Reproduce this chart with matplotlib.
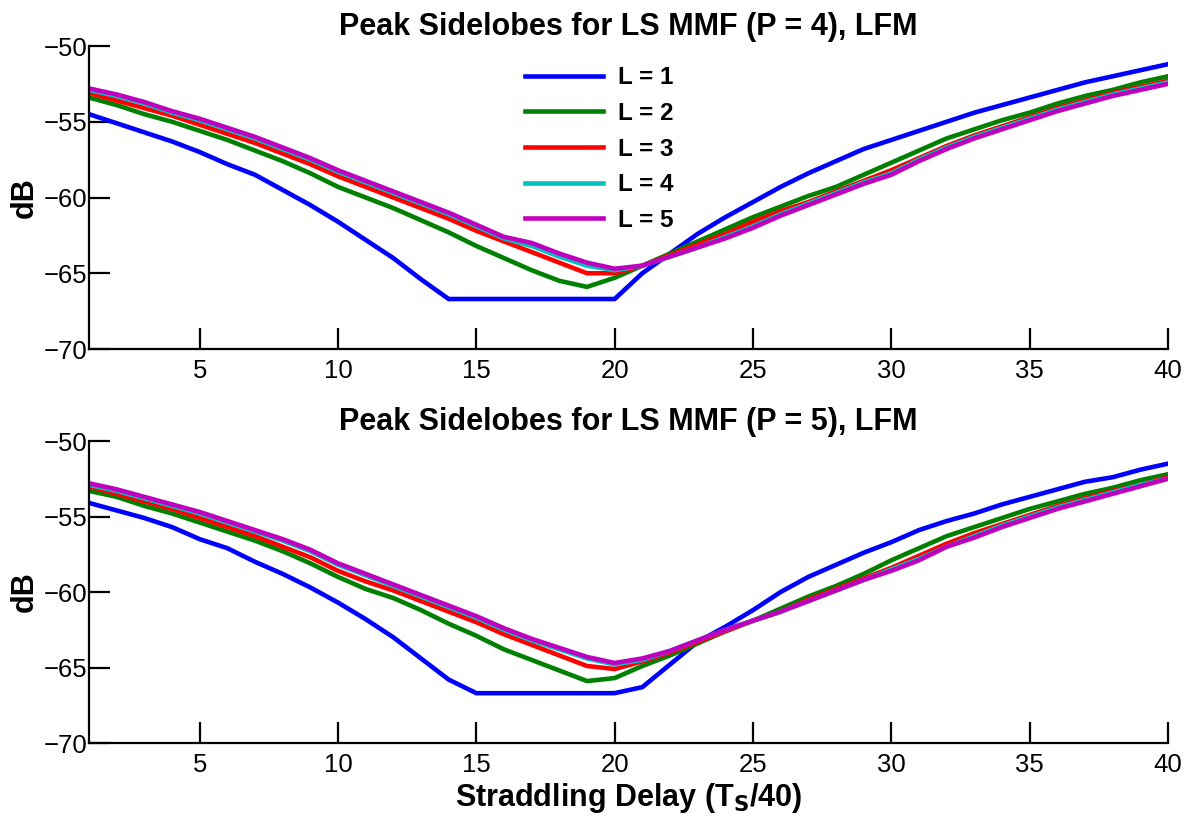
import numpy as np
import matplotlib
matplotlib.use("Agg")
import matplotlib.pyplot as plt

delay = np.arange(1, 41)

# Peak sidelobe levels (dB), P = 4
p4_L1 = [-54.5, -55.1, -55.7, -56.3, -57.0, -57.8, -58.5, -59.5, -60.5, -61.6,
         -62.8, -64.0, -65.4, -66.7, -66.7, -66.7, -66.7, -66.7, -66.7, -66.7,
         -65.0, -63.7, -62.4, -61.3, -60.3, -59.3, -58.4, -57.6, -56.8, -56.2,
         -55.6, -55.0, -54.4, -53.9, -53.4, -52.9, -52.4, -52.0, -51.6, -51.2]
p4_L2 = [-53.4, -53.9, -54.5, -55.0, -55.6, -56.2, -56.9, -57.6, -58.4, -59.3,
         -60.0, -60.7, -61.5, -62.3, -63.2, -64.0, -64.8, -65.5, -65.9, -65.3,
         -64.5, -63.7, -62.9, -62.1, -61.3, -60.6, -59.9, -59.3, -58.5, -57.7,
         -56.9, -56.1, -55.5, -54.9, -54.4, -53.8, -53.3, -52.9, -52.4, -52.0]
p4_L3 = [-53.1, -53.6, -54.1, -54.6, -55.2, -55.8, -56.4, -57.1, -57.8, -58.6,
         -59.3, -60.0, -60.7, -61.4, -62.2, -62.9, -63.6, -64.3, -65.0, -65.0,
         -64.5, -63.8, -63.1, -62.4, -61.6, -60.9, -60.3, -59.6, -58.9, -58.2,
         -57.4, -56.6, -55.9, -55.3, -54.7, -54.1, -53.6, -53.1, -52.7, -52.3]
p4_L4 = [-52.9, -53.3, -53.8, -54.4, -54.9, -55.5, -56.1, -56.8, -57.5, -58.3,
         -59.0, -59.7, -60.4, -61.1, -61.9, -62.7, -63.2, -63.9, -64.5, -64.8,
         -64.5, -63.9, -63.3, -62.6, -61.9, -61.1, -60.4, -59.7, -59.0, -58.4,
         -57.5, -56.7, -56.0, -55.4, -54.8, -54.2, -53.7, -53.2, -52.8, -52.4]
p4_L5 = [-52.8, -53.2, -53.7, -54.3, -54.8, -55.4, -56.0, -56.7, -57.4, -58.2,
         -58.9, -59.6, -60.3, -61.0, -61.8, -62.6, -63.0, -63.7, -64.3, -64.7,
         -64.5, -63.9, -63.3, -62.7, -62.0, -61.2, -60.5, -59.8, -59.1, -58.5,
         -57.6, -56.8, -56.1, -55.5, -54.9, -54.3, -53.8, -53.3, -52.9, -52.5]

# Peak sidelobe levels (dB), P = 5
p5_L1 = [-54.1, -54.6, -55.1, -55.7, -56.5, -57.1, -58.0, -58.8, -59.7, -60.7,
         -61.8, -63.0, -64.4, -65.8, -66.7, -66.7, -66.7, -66.7, -66.7, -66.7,
         -66.3, -64.8, -63.3, -62.3, -61.2, -60.0, -59.0, -58.2, -57.4, -56.7,
         -55.9, -55.3, -54.8, -54.2, -53.7, -53.2, -52.7, -52.4, -51.9, -51.5]
p5_L2 = [-53.3, -53.7, -54.3, -54.8, -55.4, -56.0, -56.6, -57.3, -58.1, -59.0,
         -59.8, -60.4, -61.2, -62.1, -62.9, -63.8, -64.5, -65.2, -65.9, -65.7,
         -64.9, -64.2, -63.4, -62.6, -61.9, -61.1, -60.3, -59.6, -58.8, -57.9,
         -57.1, -56.3, -55.7, -55.1, -54.5, -54.0, -53.5, -53.1, -52.6, -52.2]
p5_L3 = [-53.0, -53.5, -54.0, -54.5, -55.1, -55.7, -56.3, -57.0, -57.7, -58.6,
         -59.3, -59.9, -60.6, -61.3, -62.0, -62.8, -63.5, -64.2, -64.9, -65.1,
         -64.6, -64.0, -63.3, -62.6, -61.9, -61.3, -60.5, -59.8, -59.1, -58.4,
         -57.6, -56.8, -56.1, -55.5, -54.9, -54.3, -53.8, -53.3, -52.9, -52.4]
p5_L4 = [-52.9, -53.3, -53.8, -54.3, -54.8, -55.4, -56.0, -56.6, -57.3, -58.2,
         -58.9, -59.6, -60.3, -61.0, -61.7, -62.5, -63.2, -63.8, -64.4, -64.8,
         -64.5, -63.9, -63.2, -62.5, -61.9, -61.3, -60.6, -59.9, -59.2, -58.5,
         -57.8, -57.0, -56.3, -55.6, -55.0, -54.4, -53.9, -53.4, -52.9, -52.5]
p5_L5 = [-52.8, -53.2, -53.7, -54.2, -54.7, -55.3, -55.9, -56.5, -57.2, -58.1,
         -58.8, -59.5, -60.2, -60.9, -61.6, -62.4, -63.1, -63.7, -64.3, -64.7,
         -64.4, -63.9, -63.2, -62.5, -61.9, -61.3, -60.6, -59.9, -59.2, -58.6,
         -57.9, -57.0, -56.4, -55.7, -55.1, -54.5, -54.0, -53.5, -53.0, -52.5]

labels = ["L = 1", "L = 2", "L = 3", "L = 4", "L = 5"]
colors = ["#0000ff", "#008000", "#ff0000", "#00bfbf", "#bf00bf"]
titles = ["Peak Sidelobes for LS MMF (P = 4), LFM",
          "Peak Sidelobes for LS MMF (P = 5), LFM"]
xticks = [5, 10, 15, 20, 25, 30, 35, 40]
yticks = [-70, -65, -60, -55, -50]

plt.rcParams["font.family"] = ["Liberation Sans", "DejaVu Sans"]

fig = plt.figure(figsize=(11.92, 8.30), dpi=100)
ax_top = fig.add_axes([89 / 1192, 1 - 349 / 830, 1079 / 1192, 303 / 830])
ax_bot = fig.add_axes([89 / 1192, 1 - 743 / 830, 1079 / 1192, 302 / 830])

panels = [(ax_top, [p4_L1, p4_L2, p4_L3, p4_L4, p4_L5]),
          (ax_bot, [p5_L1, p5_L2, p5_L3, p5_L4, p5_L5])]

for i, (ax, series) in enumerate(panels):
    for vals, lab, col in zip(series, labels, colors):
        ax.plot(delay, vals, color=col, lw=3.3, label=lab,
                solid_joinstyle="miter")
    ax.set_xlim(1, 40)
    ax.set_ylim(-70, -50)
    ax.set_xticks(xticks)
    ax.set_yticks(yticks)
    ax.spines["top"].set_visible(False)
    ax.spines["right"].set_visible(False)
    for sp in ("left", "bottom"):
        ax.spines[sp].set_linewidth(1.6)
    ax.tick_params(axis="both", direction="in", length=15, width=1.6,
                   labelsize=18.5)
    ax.tick_params(axis="y", pad=1)
    ax.tick_params(axis="x", pad=7)
    ax.set_ylabel("dB", fontsize=22, fontweight="bold", labelpad=3)
    ax.set_title(titles[i], fontsize=22, fontweight="bold", pad=8)

ax_bot.set_xlabel(r"Straddling Delay (T$_\mathbf{S}$/40)", fontsize=22,
                  fontweight="bold", labelpad=3)

leg = ax_top.legend(loc="upper left", bbox_to_anchor=(0.384, 1.005),
                    frameon=False, handlelength=3.2, handletextpad=0.6,
                    labelspacing=0.52, prop={"size": 17.5, "weight": "bold"})

fig.savefig("out.png", dpi=100)
